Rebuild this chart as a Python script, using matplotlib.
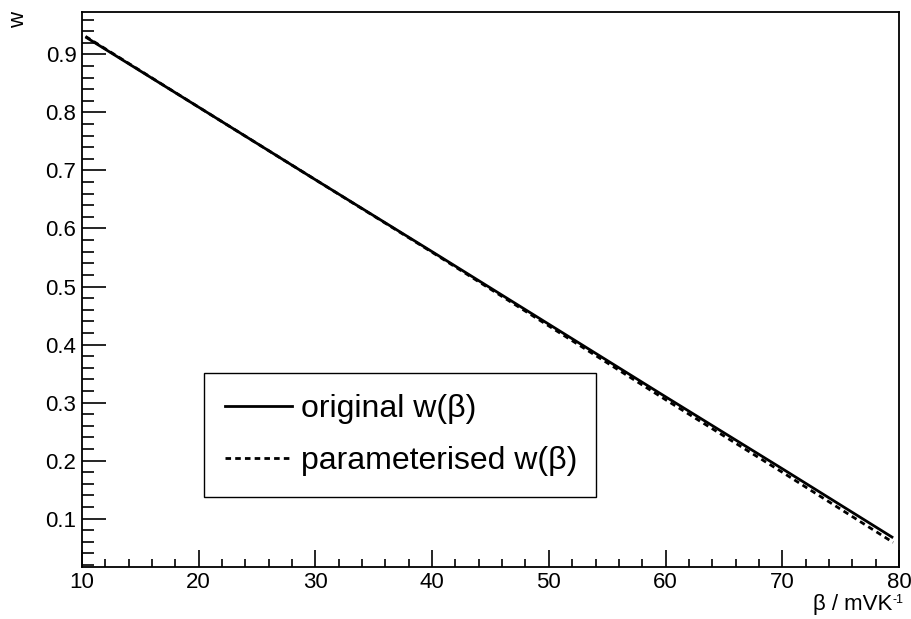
import matplotlib
matplotlib.use("Agg")
import matplotlib.pyplot as plt
from matplotlib.ticker import MultipleLocator
from matplotlib.lines import Line2D

plt.rcParams['font.family'] = ['Liberation Sans', 'DejaVu Sans']

beta = [10.3, 20, 30, 40, 50, 60, 70, 79.5]
w_original = [0.930, 0.809, 0.684, 0.560, 0.435, 0.310, 0.186, 0.067]
w_param = [0.931, 0.809, 0.684, 0.559, 0.432, 0.305, 0.180, 0.059]

fig = plt.figure(figsize=(9.11, 6.19), dpi=100)
ax = fig.add_axes([0.0900, 0.0845, 0.8968, 0.8961])

ax.plot(beta, w_original, color='black', lw=2.0, solid_capstyle='butt')
ax.plot(beta, w_param, color='black', lw=2.0, linestyle=(0, (2, 1.5)))

ax.set_xlim(10, 80)
ax.set_ylim(0.0172, 0.973)

ax.xaxis.set_major_locator(MultipleLocator(10))
ax.xaxis.set_minor_locator(MultipleLocator(2))
ax.yaxis.set_major_locator(MultipleLocator(0.1))
ax.yaxis.set_minor_locator(MultipleLocator(0.02))

ax.tick_params(axis='both', which='both', direction='in', top=False, right=False,
               labelsize=16, width=1.2, color='black')
ax.tick_params(axis='x', which='major', length=12, pad=4)
ax.tick_params(axis='x', which='minor', length=6)
ax.tick_params(axis='y', which='major', length=17, pad=4)
ax.tick_params(axis='y', which='minor', length=8.5)

ax.set_xticks([10, 20, 30, 40, 50, 60, 70, 80])
ax.set_xticklabels(['10', '20', '30', '40', '50', '60', '70', '80'])
yt = [0.1, 0.2, 0.3, 0.4, 0.5, 0.6, 0.7, 0.8, 0.9]
ax.set_yticks(yt)
ax.set_yticklabels(['0.1', '0.2', '0.3', '0.4', '0.5', '0.6', '0.7', '0.8', '0.9'])

for s in ax.spines.values():
    s.set_linewidth(1.3)

fig.text(0.9795, 0.015, 'β / mVK', ha='right', va='baseline', fontsize=16)
fig.text(0.9800, 0.0265, '-1', ha='left', va='baseline', fontsize=9)
fig.text(0.0198, 0.967, 'w', rotation=90, ha='center', va='center', fontsize=16)

handles = [Line2D([], [], color='black', lw=2.0),
           Line2D([], [], color='black', lw=2.0, linestyle=(0, (2, 1.5)))]
leg = ax.legend(handles, ['original w(β)', 'parameterised w(β)'],
                loc='lower left', bbox_to_anchor=(0.1493, 0.1257, 0.4798, 0.2236),
                mode='expand', fontsize=23, frameon=True, fancybox=False,
                edgecolor='black', framealpha=1, borderpad=0.65, labelspacing=0.7,
                handlelength=2.1, handletextpad=0.3, borderaxespad=0)
leg.get_frame().set_linewidth(1.0)

fig.savefig('out.png', dpi=100)
